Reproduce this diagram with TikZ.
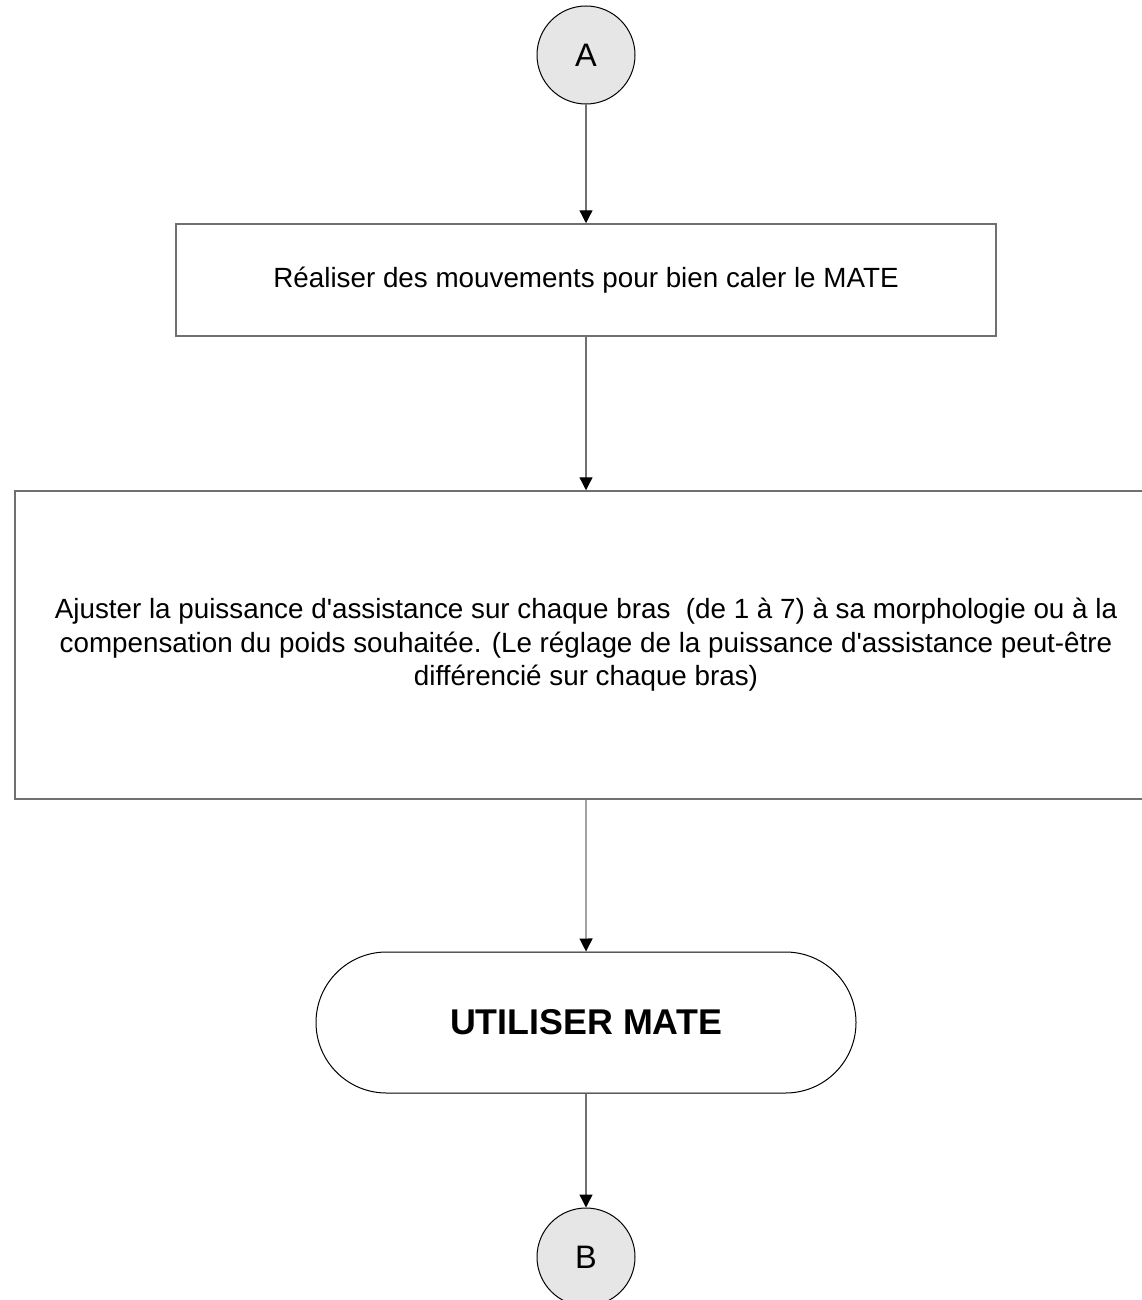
\documentclass[tikz,border=0pt]{standalone}
\usepackage{fontspec}
\setmainfont{Liberation Sans}[Ligatures=TeXOff]
\usetikzlibrary{arrows.meta,shapes.misc}
\definecolor{linegray}{HTML}{707070}
\definecolor{circfill}{HTML}{E6E6E6}
\begin{document}
\begin{tikzpicture}[x=1pt,y=-1pt,
  conn/.style={draw=linegray,line width=1.3pt,-{Triangle[width=13pt,length=13pt,color=black]}},
  connector/.style={circle,draw=black,line width=1pt,fill=circfill,minimum size=98pt,inner sep=0pt,font=\fontsize{32.5}{36}\selectfont},
  procbox/.style={rectangle,draw=linegray,line width=1.5pt,inner sep=0pt,align=center,font=\fontsize{27.8}{33.5}\selectfont},
  term/.style={rounded rectangle,draw=black,line width=1pt,minimum width=540pt,minimum height=141pt,inner sep=0pt,font=\bfseries\fontsize{35.8}{40}\selectfont}]
\useasboundingbox (0,0) rectangle (1142,1300);
\node[connector] (A) at (586,55) {A};
\node[procbox,minimum width=820pt,minimum height=112pt] (p1) at (586,280) {Réaliser des mouvements pour bien caler le MATE};
\node[procbox,minimum width=1142pt,minimum height=308pt] (p2) at (586,645) {Ajuster la puissance d'assistance sur chaque bras~ (de 1 à 7) à sa morphologie ou à la\\compensation du poids souhaitée. (Le réglage de la puissance d'assistance peut-être\\différencié sur chaque bras)};
\node[term] (t) at (586,1022.5) {UTILISER MATE};
\node[connector] (B) at (586,1257) {B};
\draw[conn] (A) -- (p1);
\draw[conn] (p1) -- (p2);
\draw[conn] (p2) -- (t);
\draw[conn] (t) -- (B);
\end{tikzpicture}
\end{document}
